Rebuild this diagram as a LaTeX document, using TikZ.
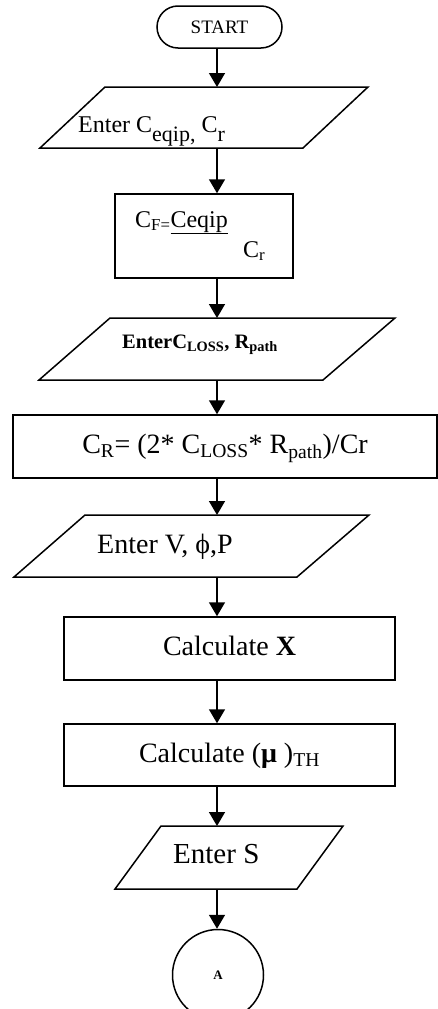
\documentclass[tikz,border=0pt]{standalone}
\usepackage{fontspec}
\setmainfont{Liberation Serif}
\usetikzlibrary{arrows.meta,shapes.misc}

\begin{document}
\begin{tikzpicture}[x=1pt,y=-1pt,
  flow/.style={-{Triangle[width=16pt,length=14pt]},line width=1.5pt},
  process/.style={draw,rectangle,line width=1.5pt,inner sep=0pt,
    text height=21pt,text depth=7pt,font=\fontsize{28}{30}\selectfont},
  io/.style={line width=1.5pt,line join=miter},
  iotext/.style={anchor=base west,inner sep=0pt,font=\fontsize{28}{30}\selectfont}]
\useasboundingbox (0,0) rectangle (438,1009);
\clip (0,0) rectangle (438,1009);
\coordinate (axis) at (217,0);

\node[draw,rounded rectangle,line width=1.5pt,minimum width=125pt,minimum height=42pt,
  inner sep=0pt,text height=13pt,text depth=0pt,font=\fontsize{19}{20}\selectfont] (start) at (219.5,27) {START};

% read the equipment cost
\draw[io] (105,87) -- (368,87) -- (303,148) -- (40,148) -- cycle;
\coordinate (eqip-t) at (217,87);
\coordinate (eqip-b) at (217,148);
\node[iotext,font=\fontsize{24}{26}\selectfont] (eqip) at (78,132)
  {Enter C\raisebox{-9pt}{\fontsize{22}{22}\selectfont eqip,} C\raisebox{-9pt}{\fontsize{22}{22}\selectfont r}};

% cost factor
\node[draw,rectangle,line width=1.5pt,minimum width=178pt,minimum height=84pt] (cf) at (204,236) {};
\node[iotext,font=\fontsize{24}{26}\selectfont] (cfnum) at (135,227) {C\textsubscript{F=}\underline{Ceqip}};
\node[iotext,font=\fontsize{24}{26}\selectfont] (cfden) at (243,257) {C\textsubscript{r}};

% read losses and path
\draw[io] (110,318) -- (395,318) -- (323,380) -- (39,380) -- cycle;
\coordinate (loss-t) at (217,318);
\coordinate (loss-b) at (217,380);
\node[iotext,font=\fontsize{20.5}{22}\selectfont\bfseries] (loss) at (122,348)
  {EnterC\textsubscript{LOSS}, R\textsubscript{path}};

\node[process,minimum width=424pt,minimum height=63pt] (cr) at (225,446.5)
  {C\textsubscript{R}= (2* C\textsubscript{LOSS}* R\textsubscript{path})/Cr};

% read V, phi, P
\draw[io] (85,515) -- (369,515) -- (297,577) -- (14,577) -- cycle;
\coordinate (vphi-t) at (217,515);
\coordinate (vphi-b) at (217,577);
\node[iotext] (vphi) at (97,553) {Enter V, ϕ,P};

\node[process,minimum width=331pt,minimum height=63pt] (calcx) at (229.5,648.5) {Calculate \textbf{X}};
\node[process,minimum width=331pt,minimum height=62pt] (calcmu) at (229.5,755) {Calculate (\textbf{μ} )\textsubscript{TH}};

% read S
\draw[io] (161,826) -- (343,826) -- (297,889) -- (115,889) -- cycle;
\coordinate (s-t) at (217,826);
\coordinate (s-b) at (217,889);
\node[iotext,font=\fontsize{29}{31}\selectfont] (s) at (173,863) {Enter S};

\node[draw,circle,line width=1.5pt,minimum size=91pt,inner sep=0pt,
  font=\fontsize{13}{14}\selectfont\bfseries] (conn) at (218,975) {A};

\draw[flow] (axis |- start.south) -- (eqip-t);
\draw[flow] (eqip-b) -- (axis |- cf.north);
\draw[flow] (axis |- cf.south) -- (loss-t);
\draw[flow] (loss-b) -- (axis |- cr.north);
\draw[flow] (axis |- cr.south) -- (vphi-t);
\draw[flow] (vphi-b) -- (axis |- calcx.north);
\draw[flow] (axis |- calcx.south) -- (axis |- calcmu.north);
\draw[flow] (axis |- calcmu.south) -- (s-t);
\draw[flow] (s-b) -- (axis |- conn.north);
\end{tikzpicture}
\end{document}
